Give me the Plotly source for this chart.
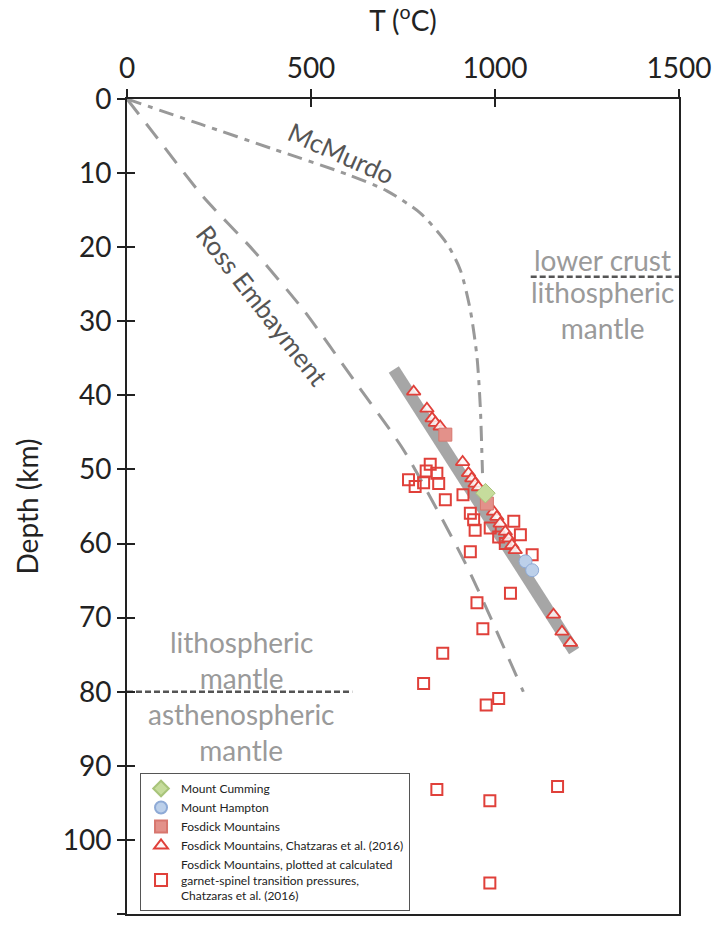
import plotly.graph_objects as go

# ---- data ----
mcmurdo_T = [0, 200, 400, 600, 706, 797, 869, 906, 933, 951, 960, 966]
mcmurdo_D = [0, 3.4, 6.8, 10.2, 12.4, 15.4, 19.5, 23.1, 28.5, 34.8, 41.5, 50.5]

ross_T = [0, 72, 207, 343, 480, 616, 752, 925, 1077]
ross_D = [0, 4.6, 13.2, 20.4, 28.5, 37.9, 47.4, 63.2, 80.0]

band_T = [725, 1215]
band_D = [36.5, 74.5]

cumming_T = [974]
cumming_D = [53.2]

hampton_T = [1083, 1101]
hampton_D = [62.4, 63.6]

fosdick_T = [865, 978]
fosdick_D = [45.3, 54.6]

tri_T = [779, 815, 829, 838, 851, 912, 928, 937, 946, 955, 996, 1005, 1014, 1028,
         1037, 1046, 1055, 1159, 1182, 1205]
tri_D = [39.5, 41.8, 43.1, 43.7, 44.2, 49.0, 50.5, 51.2, 51.9, 52.4, 55.7, 56.4, 57.3,
         58.4, 59.3, 60.2, 60.9, 69.6, 71.9, 73.4]

sq_T = [824, 813, 842, 765, 783, 806, 847, 865, 913, 933, 942, 946, 987, 1010, 1051,
        1069, 1028, 1101, 933, 1042, 951, 967, 858, 806, 976, 1010, 842, 986, 1170, 986]
sq_D = [49.3, 50.2, 50.5, 51.4, 52.3, 51.8, 51.9, 54.1, 53.4, 55.9, 56.8, 58.2, 57.9,
        59.1, 57.0, 58.8, 60.0, 61.5, 61.1, 66.7, 68.0, 71.5, 74.8, 78.9, 81.8, 80.9,
        93.2, 94.7, 92.8, 105.8]

x_ticks = [0, 500, 1000, 1500]
y_ticks = list(range(0, 111, 10))

crust_boundary_T = [1097, 1500]
crust_boundary_D = [24, 24]
asth_boundary_T = [0, 612]
asth_boundary_D = [80, 80]

FONT = "Lato"
RED = "#e0403a"

fig = go.Figure()

fig.add_trace(go.Scatter(x=band_T, y=band_D, mode="lines",
                         line=dict(color="#a6a6a6", width=12), showlegend=False,
                         hoverinfo="skip"))
fig.add_trace(go.Scatter(x=mcmurdo_T, y=mcmurdo_D, mode="lines",
                         line=dict(color="#999999", width=3, dash="15px,7px,5px,7px",
                                   shape="spline", smoothing=0.7),
                         showlegend=False))
fig.add_trace(go.Scatter(x=ross_T, y=ross_D, mode="lines",
                         line=dict(color="#999999", width=3, dash="19px,12px",
                                   shape="spline", smoothing=0.6),
                         showlegend=False))
fig.add_trace(go.Scatter(x=crust_boundary_T, y=crust_boundary_D, mode="lines",
                         line=dict(color="#555555", width=2.5, dash="6px,3px"),
                         showlegend=False))
fig.add_trace(go.Scatter(x=asth_boundary_T, y=asth_boundary_D, mode="lines",
                         line=dict(color="#555555", width=2.5, dash="6px,3px"),
                         showlegend=False))

fig.add_trace(go.Scatter(x=sq_T, y=sq_D, mode="markers",
                         name="Fosdick Mountains, plotted at calculated<br>garnet-spinel transition pressures,<br>Chatzaras et al. (2016)",
                         marker=dict(symbol="square-open", size=11, color=RED,
                                     line=dict(width=2, color=RED)),
                         legendrank=5))
fig.add_trace(go.Scatter(x=tri_T, y=tri_D, mode="markers",
                         name="Fosdick Mountains, Chatzaras et al. (2016)",
                         marker=dict(symbol="triangle-up", size=12, color="rgba(255,245,245,0.85)",
                                     line=dict(width=1.8, color=RED)),
                         legendrank=4))
fig.add_trace(go.Scatter(x=fosdick_T, y=fosdick_D, mode="markers",
                         name="Fosdick Mountains",
                         marker=dict(symbol="square", size=13, color="#e3918a",
                                     line=dict(width=1, color="#d8766e")),
                         legendrank=3))
fig.add_trace(go.Scatter(x=cumming_T, y=cumming_D, mode="markers",
                         name="Mount Cumming",
                         marker=dict(symbol="diamond", size=15, color="#c6dc9c",
                                     line=dict(width=1, color="#a8c47a")),
                         legendrank=1))
fig.add_trace(go.Scatter(x=hampton_T, y=hampton_D, mode="markers",
                         name="Mount Hampton",
                         marker=dict(symbol="circle", size=13, color="#bcd0ea",
                                     line=dict(width=1, color="#8eaad6")),
                         legendrank=2))

# invisible trace carrying the overlay axes that draw the inner half of the ticks
fig.add_trace(go.Scatter(x=[0], y=[0], xaxis="x2", yaxis="y2", mode="markers",
                         marker=dict(opacity=0), showlegend=False, hoverinfo="skip"))

ann_gray = dict(color="#9a9a9a", size=28, family=FONT)
annotations = [
    dict(x=582, y=7.3, text="McMurdo", textangle=24, showarrow=False,
         font=dict(color="#555555", size=26, family=FONT)),
    dict(x=367, y=27.8, text="Ross Embayment", textangle=52, showarrow=False,
         font=dict(color="#555555", size=26, family=FONT)),
    dict(x=1291, y=21.7, text="lower crust", showarrow=False, font=ann_gray),
    dict(x=1291, y=28.5, text="lithospheric<br>mantle", showarrow=False, font=ann_gray),
    dict(x=312, y=75.7, text="lithospheric<br>mantle", showarrow=False, font=ann_gray),
    dict(x=312, y=85.5, text="asthenospheric<br>mantle", showarrow=False, font=ann_gray),
]

axis_font = dict(family=FONT, size=28, color="#222222")

fig.update_layout(
    width=716, height=929,
    margin=dict(l=127, r=37, t=99, b=15),
    paper_bgcolor="white", plot_bgcolor="white",
    font=dict(family=FONT, color="#222222"),
    annotations=annotations,
    xaxis=dict(range=[0, 1500], side="top", tickvals=x_ticks, ticks="outside",
               ticklen=8, tickwidth=2, tickcolor="#222222", showline=True,
               linecolor="#222222", linewidth=2, mirror=True, showgrid=False,
               zeroline=False, tickfont=axis_font, automargin=False,
               title=dict(text="T (<sup>o</sup>C)", font=axis_font, standoff=12)),
    yaxis=dict(range=[110, 0], tickvals=y_ticks, ticks="outside", ticklen=8,
               tickwidth=2, tickcolor="#222222", showline=True, linecolor="#222222",
               linewidth=2, mirror=True, showgrid=False, zeroline=False,
               tickfont=axis_font, automargin=False,
               title=dict(text="Depth (km)", font=axis_font, standoff=16)),
    xaxis2=dict(range=[0, 1500], overlaying="x", side="top", anchor="y",
                tickvals=x_ticks, ticks="inside", ticklen=8, tickwidth=2,
                tickcolor="#222222", showticklabels=False, showline=False,
                showgrid=False, zeroline=False, automargin=False),
    yaxis2=dict(range=[110, 0], overlaying="y", side="left", anchor="x",
                tickvals=y_ticks, ticks="inside", ticklen=8, tickwidth=2,
                tickcolor="#222222", showticklabels=False, showline=False,
                showgrid=False, zeroline=False, automargin=False),
    legend=dict(x=0.0236, y=0.173, xanchor="left", yanchor="top",
                bordercolor="#555555", borderwidth=1, bgcolor="white",
                font=dict(family=FONT, size=12, color="#222222"),
                tracegroupgap=0, itemsizing="constant", itemwidth=30),
    showlegend=True,
)

fig.write_html("out.html")
